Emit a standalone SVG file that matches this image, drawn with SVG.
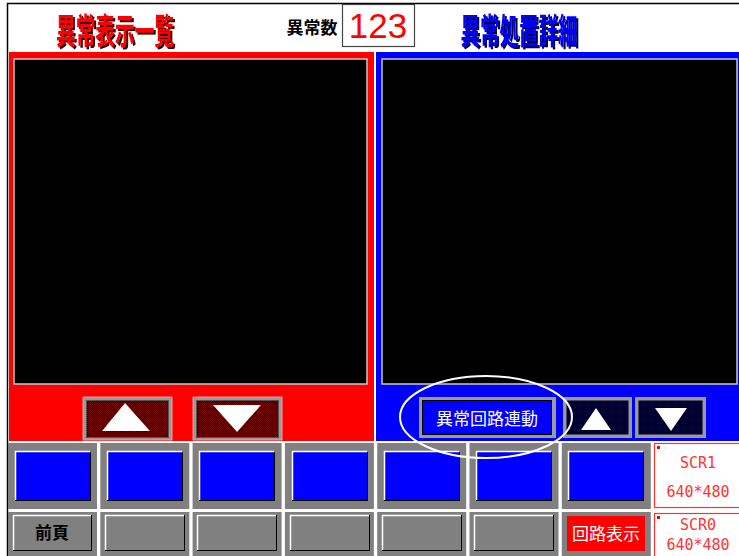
<svg xmlns="http://www.w3.org/2000/svg" width="739" height="556" viewBox="0 0 739 556">
<defs>
<pattern id="chkR" width="2" height="2" patternUnits="userSpaceOnUse"><rect width="2" height="2" fill="#000"/><rect width="1" height="1" fill="#700"/><rect x="1" y="1" width="1" height="1" fill="#700"/></pattern>
<pattern id="chkB" width="2" height="2" patternUnits="userSpaceOnUse"><rect width="2" height="2" fill="#000"/><rect width="1" height="1" fill="#003"/><rect x="1" y="1" width="1" height="1" fill="#006"/></pattern>
<filter id="shR" x="-5%" y="-10%" width="115%" height="130%"><feDropShadow dx="2" dy="2" stdDeviation="0" flood-color="#300"/></filter>
<filter id="shB" x="-5%" y="-10%" width="115%" height="130%"><feDropShadow dx="2" dy="2" stdDeviation="0" flood-color="#003"/></filter>
</defs>
<style>
.jp{font-family:"Noto Sans CJK JP","Noto Sans",sans-serif}
.mono{font-family:"DejaVu Sans Mono","Liberation Mono",monospace;font-size:15px;fill:#f33;text-anchor:middle}
.screen{fill:#000;stroke:#c8c8c8;stroke-width:1.5}
.cell{fill:#808080}
.blue{fill:#0000ff;stroke:#000;stroke-width:1}
.btn{fill:#808080;stroke:#000;stroke-width:1}
.hl{fill:none;stroke:#fff;stroke-width:1.5}
.frame{fill:#9a9a9a}
.tri{fill:#fff}
</style>
<rect width="739" height="556" fill="#fff"/>
<rect x="7.5" y="3.5" width="740" height="560" fill="none" stroke="#000" stroke-width="1.5"/>

<g id="header">
<text class="jp" x="115" y="44" font-size="35" font-weight="bold" fill="#f00" text-anchor="middle" textLength="118" lengthAdjust="spacingAndGlyphs" filter="url(#shR)">異常表示一覧</text>
<text class="jp" x="312" y="34" font-size="17" font-weight="bold" fill="#000" text-anchor="middle">異常数</text>
<rect x="342.5" y="4.5" width="72" height="42" fill="#fff" stroke="#444" stroke-width="1.2"/>
<text x="378" y="38" font-family="Liberation Sans, sans-serif" font-size="35" fill="#f00" text-anchor="middle">123</text>
<text class="jp" x="519" y="44" font-size="35" font-weight="bold" fill="#00f" text-anchor="middle" textLength="117" lengthAdjust="spacingAndGlyphs" filter="url(#shB)">異常処置詳細</text>
</g>

<g id="red-panel">
<rect x="9" y="52" width="365" height="389" fill="#f00"/>
<rect class="screen" x="14" y="59" width="353" height="325"/>
<g id="red-up">
<rect class="frame" x="83" y="397" width="89" height="43" stroke="#f99" stroke-width="1"/>
<rect x="86.5" y="400.5" width="82" height="37" fill="url(#chkR)" stroke="#555" stroke-width="1"/>
<polygon class="tri" points="125,403 150,431 102,431"/>
</g>
<g id="red-down">
<rect class="frame" x="193" y="397" width="89" height="43" stroke="#f99" stroke-width="1"/>
<rect x="196.5" y="400.5" width="82" height="37" fill="url(#chkR)" stroke="#555" stroke-width="1"/>
<polygon class="tri" points="213,405 261,405 237,432"/>
</g>
</g>

<g id="blue-panel">
<rect x="376" y="52" width="365" height="389" fill="#00f"/>
<rect class="screen" x="382" y="59" width="355" height="325"/>
<g id="link-btn">
<rect class="frame" x="419" y="397" width="137" height="41"/>
<rect x="422.5" y="400.5" width="129" height="34" fill="#00f" stroke="#000" stroke-width="1"/>
<text class="jp" x="487" y="425" font-size="17" fill="#fff" text-anchor="middle">異常回路連動</text>
</g>
<g id="blue-up">
<rect class="frame" x="563" y="397" width="69" height="41"/>
<rect x="566.5" y="400.5" width="62" height="34" fill="url(#chkB)"/>
<polygon class="tri" points="596,408 611,430 581,430"/>
</g>
<g id="blue-down">
<rect class="frame" x="635" y="397" width="71" height="41"/>
<rect x="638.5" y="400.5" width="64" height="34" fill="url(#chkB)"/>
<polygon class="tri" points="655,408 687,408 671,431"/>
</g>
</g>

<g id="row1">
<rect x="8" y="443" width="89" height="66" class="cell"/>
<rect x="100.3" y="443" width="89" height="66" class="cell"/>
<rect x="192.6" y="443" width="89" height="66" class="cell"/>
<rect x="284.9" y="443" width="89" height="66" class="cell"/>
<rect x="377.2" y="443" width="89" height="66" class="cell"/>
<rect x="469.5" y="443" width="89" height="66" class="cell"/>
<rect x="561.8" y="443" width="89" height="66" class="cell"/>
<rect x="15.5" y="451.5" width="75" height="49" class="blue"/>
<rect x="107.5" y="451.5" width="75" height="49" class="blue"/>
<rect x="199.5" y="451.5" width="75" height="49" class="blue"/>
<rect x="292.5" y="451.5" width="75" height="49" class="blue"/>
<rect x="384.5" y="451.5" width="75" height="49" class="blue"/>
<rect x="476.5" y="451.5" width="75" height="49" class="blue"/>
<rect x="568.5" y="451.5" width="75" height="49" class="blue"/>
<path class="hl" d="M15.5 500V451.5H90.5M107.5 500V451.5H182.5M199.5 500V451.5H274.5M292.5 500V451.5H367.5M384.5 500V451.5H459.5M476.5 500V451.5H551.5M568.5 500V451.5H643.5"/>
</g>

<g id="scr1">
<rect x="654.5" y="443.5" width="90" height="64" fill="#fff" stroke="#f33" stroke-width="1.2"/>
<rect x="657" y="446" width="3" height="3" fill="#f00"/>
<text class="mono" x="698" y="468">SCR1</text>
<text class="mono" x="698" y="497">640*480</text>
</g>

<g id="row2">
<rect x="8" y="512" width="89" height="46" class="cell"/>
<rect x="100.3" y="512" width="89" height="46" class="cell"/>
<rect x="192.6" y="512" width="89" height="46" class="cell"/>
<rect x="284.9" y="512" width="89" height="46" class="cell"/>
<rect x="377.2" y="512" width="89" height="46" class="cell"/>
<rect x="469.5" y="512" width="89" height="46" class="cell"/>
<rect x="561.8" y="512" width="89" height="46" class="cell"/>
<g id="prev-btn">
<rect x="13.5" y="515.5" width="78" height="35" class="btn"/>
<path class="hl" d="M13.5 550V515.5H91"/>
<text class="jp" x="52" y="539" font-size="17" font-weight="bold" fill="#000" text-anchor="middle">前頁</text>
</g>
<rect x="105.5" y="515.5" width="79" height="35" class="btn"/>
<rect x="197.5" y="515.5" width="79" height="35" class="btn"/>
<rect x="290.5" y="515.5" width="79" height="35" class="btn"/>
<rect x="382.5" y="515.5" width="79" height="35" class="btn"/>
<rect x="474.5" y="515.5" width="79" height="35" class="btn"/>
<path class="hl" d="M105.5 550V515.5H184M197.5 550V515.5H276M290.5 550V515.5H369M382.5 550V515.5H461M474.5 550V515.5H553"/>
<g id="circuit-btn">
<rect x="567" y="516" width="78" height="35" fill="#f00"/>
<text class="jp" x="606" y="540" font-size="17" fill="#fff" text-anchor="middle">回路表示</text>
</g>
</g>

<g id="scr0">
<rect x="654.5" y="513.5" width="90" height="50" fill="#fff" stroke="#f33" stroke-width="1.2"/>
<rect x="657" y="516" width="3" height="3" fill="#f00"/>
<text class="mono" x="698" y="530">SCR0</text>
<text class="mono" x="698" y="550">640*480</text>
</g>

<g id="connectors">
<ellipse cx="486" cy="417" rx="86" ry="41" fill="none" stroke="#fff" stroke-width="2"/>
</g>
</svg>
